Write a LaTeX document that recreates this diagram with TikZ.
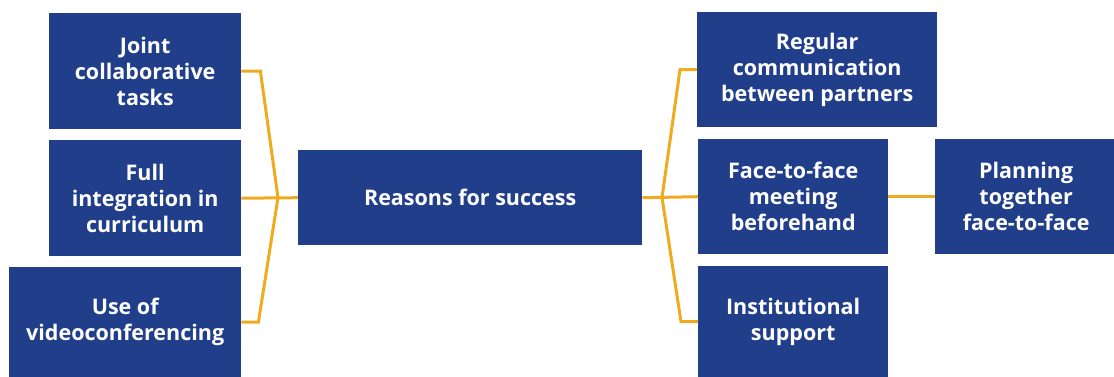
\documentclass[tikz,border=0pt]{standalone}
\usepackage{fontspec}
\setmainfont{Open Sans}
\definecolor{boxblue}{RGB}{33,62,139}
\definecolor{linegold}{RGB}{240,170,30}
\tikzset{
  box/.style={fill=boxblue, text=white, font=\fontsize{21.5}{26}\selectfont\bfseries, align=center, anchor=north west, inner sep=0pt},
  link/.style={draw=linegold, line width=3pt, line join=miter}
}
\begin{document}
\begin{tikzpicture}[x=1pt,y=-1pt]
\useasboundingbox (0,0) rectangle (1114,377);
\node[box, minimum width=192pt, minimum height=116pt] (joint) at (49,13) {Joint\\collaborative\\tasks};
\node[box, minimum width=192pt, minimum height=116pt] (full) at (49,140) {Full\\integration in\\curriculum};
\node[box, minimum width=232pt, minimum height=110pt] (video) at (9,267) {Use of\\videoconferencing};
\node[box, minimum width=344pt, minimum height=95pt] (center) at (298,150) {Reasons for success};
\node[box, minimum width=240pt, minimum height=115pt] (regular) at (697,12) {Regular\\communication\\between partners};
\node[box, minimum width=190pt, minimum height=115pt] (face) at (698,139) {Face-to-face\\meeting\\beforehand};
\node[box, minimum width=190pt, minimum height=111pt] (inst) at (698,266) {Institutional\\support};
\node[box, minimum width=182pt, minimum height=115pt] (plan) at (935,139) {Planning\\together\\face-to-face};
\coordinate (jl) at (278,197.5);
\coordinate (jr) at (662,197.5);
\draw[link] (joint.east) -- ++(19,0) -- (jl);
\draw[link] (video.east) -- ++(17,0) -- (jl);
\draw[link] (full.east) -- (center.west);
\draw[link] (regular.west) -- ++(-17,0) -- (jr);
\draw[link] (inst.west) -- ++(-17,0) -- (jr);
\draw[link] (center.east) -- (face.west);
\draw[link] (face.east) -- (plan.west);
\end{tikzpicture}
\end{document}
